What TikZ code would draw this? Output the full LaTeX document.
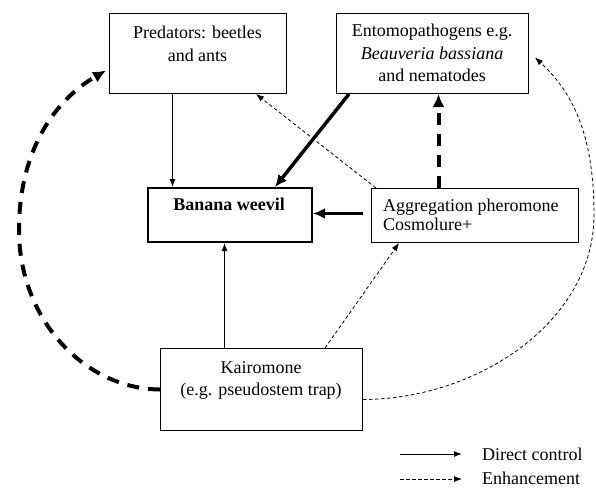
\documentclass[tikz,border=0pt]{standalone}
\usepackage{fontspec}
\setmainfont{Liberation Serif}
\usetikzlibrary{arrows.meta,calc}
\begin{document}
\begin{tikzpicture}[x=1pt,y=-1pt,
  box/.style={draw,line width=1pt,inner sep=0pt,anchor=north west},
  txt/.style={font=\fontsize{18}{22}\selectfont,align=center,inner sep=0pt},
  directline/.style={line width=1pt,-{Latex[length=8pt,width=6pt]}},
  directthick/.style={line width=3.5pt,-{Latex[length=12pt,width=11pt]}},
  enhline/.style={line width=0.8pt,dash pattern=on 3.5pt off 2.5pt,-{Latex[length=8pt,width=6pt]}},
  enhthick/.style={line width=4pt,dash pattern=on 12pt off 9pt,-{Latex[length=13pt,width=12pt]}}
]
\useasboundingbox[fill=white] (0,0) rectangle (596,488);

% boxes
\node[box,minimum width=177pt,minimum height=80pt] (pred) at (109,13) {};
\node[box,minimum width=192pt,minimum height=80pt] (ento) at (336,13) {};
\node[box,line width=2pt,minimum width=164pt,minimum height=54pt] (weevil) at (147,187) {};
\node[box,minimum width=207pt,minimum height=54pt] (agg) at (371,188) {};
\node[box,minimum width=202pt,minimum height=82pt] (kair) at (160,348) {};

% texts
\node[txt,font=\fontsize{18}{23}\selectfont] (predtext) at (197.5,43.5) {Predators: beetles\\and ants};
\node[txt,font=\fontsize{18}{22.5}\selectfont] (entotext) at (432,53) {Entomopathogens e.g.\\\textit{Beauveria bassiana}\\and nematodes};
\node[txt,font=\fontsize{18}{22}\selectfont\bfseries] (weeviltext) at (229,204) {Banana weevil};
\node[txt,font=\fontsize{18}{19}\selectfont,align=left,anchor=west] (aggtext) at (383,215) {Aggregation pheromone\\Cosmolure+};
\node[txt] (kairtext) at (261,380) {Kairomone\\(e.g. pseudostem trap)};

% connectors
\draw[directline] ([xshift=-25.5pt]pred.south) -- ([xshift=-25.5pt]pred.south |- weevil.north);
\draw[directthick] ([xshift=13pt]ento.south west) -- ([xshift=-38pt]weevil.north east);
\draw[directthick] ([xshift=-8pt,yshift=2pt]agg.west) -- ([yshift=2pt]agg.west -| weevil.east);
\draw[enhthick] ([xshift=-36.5pt]agg.north) -- ([xshift=-36.5pt]agg.north |- ento.south);
\draw[enhline] ([xshift=5pt]agg.north west) -- ([xshift=-31pt]pred.south east);
\draw[directline] ([xshift=-37pt]kair.north) -- ([xshift=-37pt]kair.north |- weevil.south);
\draw[enhline] ([xshift=-38pt]kair.north east) -- ([xshift=28pt]agg.south west);
\draw[enhthick] (kair.west) .. controls (85,389) and (19,320) .. (19,230)
   .. controls (19,150) and (55,100) .. ([xshift=-3pt,yshift=-17pt]pred.west);
\draw[enhline] ([yshift=-10pt]kair.east) .. controls (480,399) and (594,320) .. (594,215)
   .. controls (594,130) and (570,90) .. ([xshift=6pt,yshift=-4pt]ento.east);

% legend
\coordinate (l1a) at (400,454);
\coordinate (l1b) at (462,454);
\coordinate (l2a) at (400,479);
\coordinate (l2b) at (462,479);
\draw[directline] (l1a) -- (l1b);
\draw[enhline] (l2a) -- (l2b);
\node[txt,anchor=west] (leg1) at (482,454) {Direct control};
\node[txt,anchor=west] (leg2) at (482,478) {Enhancement};
\end{tikzpicture}
\end{document}
